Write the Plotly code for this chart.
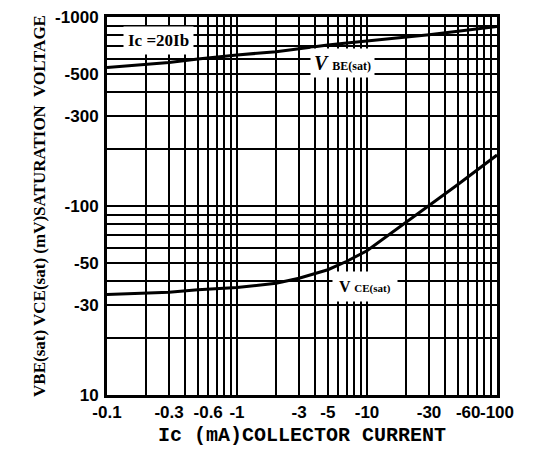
import plotly.graph_objects as go

# Collector current magnitude (mA); axis shows negative values
ic_ma = [0.1, 0.2, 0.3, 0.5, 1, 2, 3, 5, 7, 10, 20, 30, 50, 100]
vbe_sat_mv = [540, 560, 575, 600, 630, 655, 680, 710, 728, 745, 780, 805, 840, 890]
vce_sat_mv = [34, 34.5, 35, 36, 37, 39, 41.5, 46, 51, 58, 82, 100, 130, 186]

x_tickvals = [0.1, 0.3, 0.6, 1, 3, 5, 10, 30, 60, 100]
x_ticktext = ["-0.1", "-0.3", "-0.6", "-1", "-3", "-5", "-10", "-30", "-60", "-100"]
y_tickvals = [10, 30, 50, 100, 300, 500, 1000]
y_ticktext = ["10", "-30", "-50", "-100", "-300", "-500", "-1000"]

x_grid = [m * d for d in (0.1, 1, 10) for m in range(1, 10)] + [100]
y_grid = [m * d for d in (10, 100) for m in range(1, 10)] + [1000]

fig = go.Figure()
fig.add_trace(go.Scatter(x=ic_ma, y=vbe_sat_mv, mode="lines",
                         line=dict(color="black", width=3),
                         showlegend=False))
fig.add_trace(go.Scatter(x=ic_ma, y=vce_sat_mv, mode="lines",
                         line=dict(color="black", width=3),
                         showlegend=False))

tick_font = dict(family="Liberation Sans", size=17, color="black", weight="bold")

fig.update_xaxes(type="log", range=[-1, 2], tickmode="array",
                 tickvals=x_tickvals, ticktext=x_ticktext, tickangle=0,
                 showgrid=False, ticks="", tickfont=tick_font, automargin=False,
                 ticklabeloverflow="allow",
                 showline=True, linecolor="black", linewidth=3, mirror=True,
                 zeroline=False, ticklabelstandoff=0,
                 minor=dict(tickmode="array", tickvals=x_grid, showgrid=True,
                            gridcolor="black", gridwidth=2, ticks=""),
                 title=dict(text="Ic (mA)COLLECTOR CURRENT", standoff=6,
                            font=dict(family="Liberation Mono", size=20,
                                      color="black", weight="bold")))
fig.update_yaxes(type="log", range=[1, 3], tickmode="array",
                 tickvals=y_tickvals, ticktext=y_ticktext,
                 showgrid=False, ticks="", tickfont=tick_font, automargin=False,
                 ticklabeloverflow="allow",
                 showline=True, linecolor="black", linewidth=3, mirror=True,
                 zeroline=False, ticklabelstandoff=2,
                 minor=dict(tickmode="array", tickvals=y_grid, showgrid=True,
                            gridcolor="black", gridwidth=2, ticks=""),
                 title=dict(text="VBE(sat) VCE(sat) (mV)SATURATION  VOLTAGE", standoff=6,
                            font=dict(family="Liberation Serif", size=17,
                                      color="black", weight="bold")))

fig.add_annotation(xref="paper", yref="paper", x=0.131, y=0.937,
                   xanchor="center", yanchor="middle",
                   text="Ic =20Ib", showarrow=False, bgcolor="white",
                   font=dict(family="Liberation Serif", size=17, color="black", weight="bold"),
                   borderpad=4)
fig.add_annotation(xref="paper", yref="paper", x=0.603, y=0.878,
                   xanchor="center", yanchor="middle",
                   text="<i>V</i> <span style='font-size:12px'>BE(sat)</span>",
                   showarrow=False, bgcolor="white",
                   font=dict(family="Liberation Serif", size=20, color="black", weight="bold"),
                   borderpad=3)
fig.add_annotation(xref="paper", yref="paper", x=0.662, y=0.286,
                   xanchor="center", yanchor="middle",
                   text="V <span style='font-size:11px'>CE(sat)</span>",
                   showarrow=False, bgcolor="white",
                   font=dict(family="Liberation Serif", size=16, color="black", weight="bold"),
                   borderpad=6)

fig.update_layout(width=529, height=451, plot_bgcolor="white", paper_bgcolor="white",
                  margin=dict(l=99, r=40, t=9, b=64, autoexpand=False))

fig.write_html("out.html")
